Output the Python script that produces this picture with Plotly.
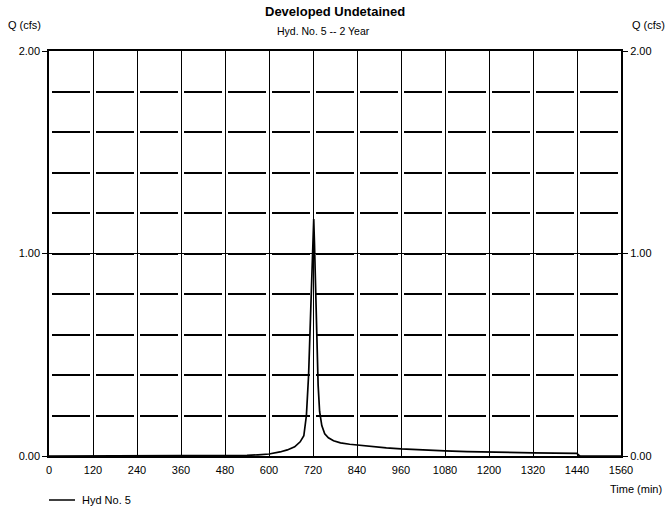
import plotly.graph_objects as go

# hydrograph (time in min, flow in cfs)
time_min = [0, 480, 540, 570, 600, 630, 650, 670, 685, 695, 702, 708, 713, 717, 720,
            722, 724, 727, 730, 734, 738, 744, 752, 762, 776, 795, 820, 840, 880, 920,
            960, 1020, 1080, 1140, 1200, 1260, 1320, 1380, 1440, 1444, 1448, 1560]
flow_cfs = [0, 0, 0.003, 0.006, 0.01, 0.02, 0.03, 0.045, 0.07, 0.1, 0.2, 0.4, 0.7, 0.95, 1.12,
            1.17, 1.05, 0.8, 0.55, 0.35, 0.22, 0.15, 0.11, 0.09, 0.075, 0.065, 0.058, 0.054, 0.046, 0.04,
            0.035, 0.029, 0.025, 0.022, 0.019, 0.017, 0.015, 0.014, 0.013, 0.005, 0, 0]

x_ticks = list(range(0, 1561, 120))
y_ticks = [0, 1, 2]
y_ticktext = ["0.00", "1.00", "2.00"]
series_name = "Hyd No. 5"

FONT = "Liberation Sans, Arial, sans-serif"
BLACK = "#000000"

W, H = 667, 508
PLOT_L, PLOT_T, PLOT_W, PLOT_H = 49, 51, 572, 405


def page_to_paper(px, py):
    return (px - PLOT_L) / PLOT_W, (PLOT_T + PLOT_H - py) / PLOT_H


fig = go.Figure()
fig.add_trace(go.Scatter(
    x=time_min, y=flow_cfs, mode="lines", name=series_name,
    line=dict(color=BLACK, width=1.7),
))
# ghost trace so the right-hand axis is drawn
fig.add_trace(go.Scatter(
    x=time_min, y=flow_cfs, mode="lines", yaxis="y2", showlegend=False,
    hoverinfo="skip", line=dict(color="rgba(0,0,0,0)", width=0),
))

fig.update_layout(
    width=W,
    height=H,
    margin=dict(l=PLOT_L, r=W - PLOT_L - PLOT_W, t=PLOT_T, b=H - PLOT_T - PLOT_H, pad=0),
    paper_bgcolor="white",
    plot_bgcolor="white",
    font=dict(family=FONT, size=11, color=BLACK),
    showlegend=False,
    xaxis=dict(
        range=[0, 1560], tickvals=x_ticks, showgrid=True, gridcolor=BLACK, gridwidth=1,
        showline=True, linecolor=BLACK, linewidth=1.5, mirror=True, zeroline=False,
        ticks="outside", ticklen=3, tickcolor="rgba(0,0,0,0)", tickfont=dict(size=11),
    ),
    yaxis=dict(
        range=[0, 2], tickvals=y_ticks, ticktext=y_ticktext, showgrid=False,
        showline=True, linecolor=BLACK, linewidth=1.5,
        mirror=True, zeroline=False, ticks="outside", ticklen=5, tickcolor=BLACK,
        tickfont=dict(size=11),
        minor=dict(dtick=0.2, showgrid=True, gridcolor=BLACK, gridwidth=1.5,
                   griddash="0px,3px,38px,3px", ticks=""),
    ),
    yaxis2=dict(
        range=[0, 2], tickvals=y_ticks, ticktext=y_ticktext, overlaying="y", side="right",
        showgrid=True, gridcolor=BLACK, gridwidth=1.3, zeroline=False,
        ticks="outside", ticklen=6, tickcolor=BLACK, tickfont=dict(size=11),
    ),
)

labels = [
    ("<b>Developed Undetained</b>", 335, 12, "center", 13),
    ("Hyd. No. 5 -- 2 Year", 323, 31, "center", 10.5),
    ("Q (cfs)", 6, 25, "left", 11),
    ("Q (cfs)", 667, 25, "right", 11),
    ("Time (min)", 664, 489, "right", 11),
    (series_name, 80, 500, "left", 11),
]
for text, px, py, anchor, size in labels:
    ax, ay = page_to_paper(px, py)
    fig.add_annotation(
        text=text, x=ax, y=ay, xref="paper", yref="paper", xanchor=anchor,
        yanchor="middle", showarrow=False, font=dict(size=size),
    )

# legend swatch (a plotly legend would push the bottom margin)
x0, y0 = page_to_paper(49, 500)
x1, _ = page_to_paper(75, 500)
fig.add_shape(type="line", xref="paper", yref="paper", x0=x0, x1=x1, y0=y0, y1=y0,
              line=dict(color=BLACK, width=1.5))

fig.write_html(
    "out.html",
    config={"displayModeBar": False},
    post_script="document.body.style.margin='0';",
)
